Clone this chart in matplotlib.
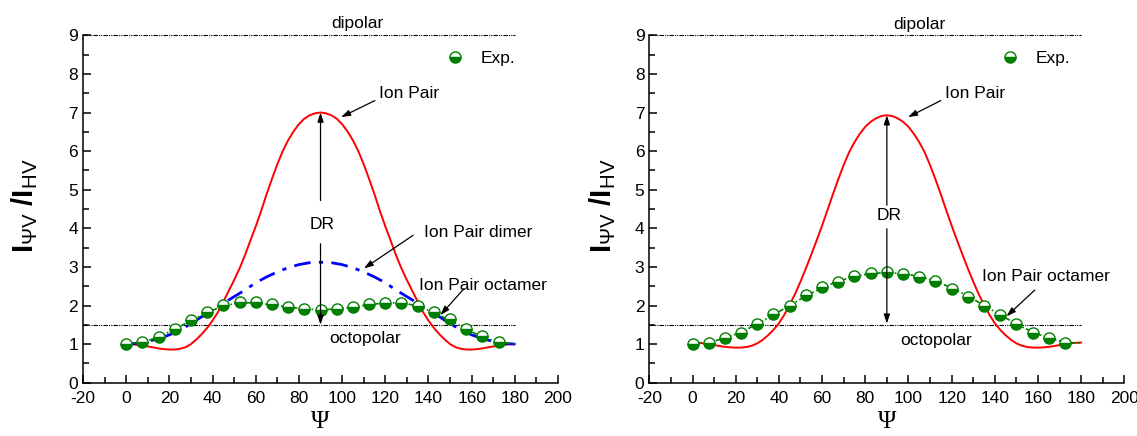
import matplotlib
matplotlib.use("Agg")
import matplotlib.pyplot as plt
import numpy as np

plt.rcParams["font.family"] = ["Liberation Sans", "DejaVu Sans"]
plt.rcParams["axes.unicode_minus"] = False
plt.rcParams["mathtext.fontset"] = "custom"
plt.rcParams["mathtext.rm"] = "Liberation Sans"
plt.rcParams["mathtext.bf"] = "Liberation Sans:bold"
plt.rcParams["mathtext.it"] = "Liberation Sans:italic"

# experimental points (psi in degrees)
psi_exp = [0, 7.5, 15, 22.5, 30, 37.5, 45, 52.5, 60, 67.5, 75, 82.5, 90,
           97.5, 105, 112.5, 120, 127.5, 135, 142.5, 150, 157.5, 165, 172.5]
exp_left = [1.00, 1.06, 1.19, 1.40, 1.62, 1.84, 2.01, 2.09, 2.08, 2.03, 1.97, 1.92, 1.89,
            1.92, 1.96, 2.03, 2.07, 2.07, 1.99, 1.84, 1.64, 1.40, 1.21, 1.06]
exp_right = [1.00, 1.03, 1.15, 1.30, 1.52, 1.77, 1.99, 2.27, 2.47, 2.62, 2.76, 2.84, 2.86,
             2.82, 2.75, 2.63, 2.44, 2.22, 1.98, 1.75, 1.52, 1.30, 1.15, 1.02]

# ion pair model, read every 2.5 deg
psi_ip = [i * 2.5 for i in range(73)]
ip_left_half = [1.00, 0.995, 0.98, 0.965, 0.94, 0.915, 0.89, 0.87, 0.86, 0.86, 0.88, 0.92,
                1.00, 1.12, 1.26, 1.42, 1.61, 1.83, 2.10, 2.38, 2.66, 2.96, 3.30, 3.68,
                4.05, 4.45, 4.88, 5.28, 5.66, 6.00, 6.28, 6.51, 6.70, 6.84, 6.93, 6.98, 7.00]
ip_right_half = [1.04, 1.035, 1.02, 1.00, 0.975, 0.95, 0.93, 0.915, 0.91, 0.91, 0.925, 0.96,
                 1.02, 1.11, 1.23, 1.37, 1.54, 1.76, 2.02, 2.30, 2.62, 2.96, 3.32, 3.69,
                 4.07, 4.47, 4.88, 5.27, 5.64, 5.97, 6.23, 6.45, 6.63, 6.76, 6.85, 6.91, 6.93]
ion_pair_left = ip_left_half + ip_left_half[-2::-1]
ion_pair_right = ip_right_half + ip_right_half[-2::-1]

# ion pair dimer model (left panel), every 5 deg
psi_dimer = list(range(0, 185, 5))
dimer_left = [1.00, 1.02, 1.07, 1.14, 1.24, 1.37, 1.53, 1.71, 1.88, 2.06, 2.23, 2.40, 2.59,
              2.74, 2.87, 2.98, 3.06, 3.11, 3.12, 3.11, 3.06, 2.98, 2.87, 2.74, 2.59, 2.40,
              2.23, 2.06, 1.88, 1.71, 1.53, 1.37, 1.24, 1.14, 1.07, 1.02, 1.00]

# ion pair octamer model
psi_oct = [0, 7.5, 15, 22.5, 30, 37.5, 45, 52.5, 60, 67.5, 75, 82.5, 90,
           97.5, 105, 112.5, 120, 127.5, 135, 142.5, 150, 157.5, 165, 172.5, 180]
oct_left = [1.00, 1.05, 1.18, 1.39, 1.61, 1.82, 1.99, 2.07, 2.07, 2.02, 1.96, 1.91, 1.89,
            1.91, 1.96, 2.02, 2.07, 2.07, 1.99, 1.82, 1.61, 1.39, 1.18, 1.05, 1.00]
oct_right = [1.02, 1.05, 1.15, 1.31, 1.52, 1.76, 2.00, 2.25, 2.46, 2.63, 2.75, 2.83, 2.85,
             2.83, 2.75, 2.63, 2.46, 2.25, 2.00, 1.76, 1.52, 1.31, 1.15, 1.05, 1.02]

dipolar = 9.0
octopolar = 1.5

GREEN = "#007f00"
FS = 12.5
YLABEL = r"$\mathbf{I}_{\mathrm{ΨV}}\ \mathbf{/I}_{\mathrm{HV}}$"


def style_axes(ax, ylab_x):
    ax.set_xlim(-20, 200)
    ax.set_ylim(0, 9)
    ax.set_xticks(np.arange(-20, 201, 20))
    ax.set_xticks(np.arange(-10, 200, 20), minor=True)
    ax.set_yticks(np.arange(0, 10, 1))
    ax.set_yticks(np.arange(0.5, 9, 1), minor=True)
    ax.tick_params(which="both", direction="in", labelsize=FS, width=1.1)
    ax.tick_params(which="major", length=6)
    ax.tick_params(which="minor", length=4.5)
    ax.tick_params(axis="x", pad=6)
    for s in ("top", "right"):
        ax.spines[s].set_visible(False)
    for s in ("left", "bottom"):
        ax.spines[s].set_linewidth(1.1)
    ax.set_xlabel("Ψ", family="Liberation Serif", fontsize=18, va="bottom")
    ax.xaxis.set_label_coords(0.5, -0.145)
    ax.set_ylabel(YLABEL, fontsize=21)
    ax.yaxis.set_label_coords(ylab_x, 0.509)


def ref_lines(ax):
    ax.plot([-20, 180], [dipolar, dipolar], color="black", lw=0.8, dashes=(4, 1, 1, 1, 1, 1), clip_on=False)
    ax.plot([-20, 180], [octopolar, octopolar], color="black", lw=0.8, dashes=(4, 1, 1, 1, 1, 1))


def exp_points(ax, y):
    return ax.plot(psi_exp, y, linestyle="none", marker="o", markersize=8,
                   fillstyle="bottom", markerfacecolor=GREEN, markerfacecoloralt="white",
                   markeredgecolor=GREEN, markeredgewidth=1.0, label="Exp.", zorder=4)[0]


def arrow(ax, xy, xytext, lw=0.9):
    ax.annotate("", xy=xy, xytext=xytext,
                arrowprops=dict(arrowstyle="-|>,head_width=0.18,head_length=0.55",
                                color="black", lw=lw, shrinkA=0, shrinkB=0), zorder=6)


fig = plt.figure(figsize=(11.37, 4.36), dpi=100)
ax1 = fig.add_axes([0.0730, 0.1222, 0.4178, 0.7968])
ax2 = fig.add_axes([0.5711, 0.1222, 0.4178, 0.7968])

# ---- left panel
ref_lines(ax1)
ax1.plot(psi_ip, ion_pair_left, color="red", lw=1.4, zorder=3)
ax1.plot(psi_dimer, dimer_left, color="blue", lw=2.0, dashes=(6, 3, 1.5, 3), zorder=3)
ax1.plot(psi_oct, oct_left, color=GREEN, lw=1.2, dashes=(3, 1.5, 1, 1.5), zorder=3)
h1 = exp_points(ax1, exp_left)
style_axes(ax1, -0.09)
ax1.legend(handles=[h1], loc="center left", bbox_to_anchor=(0.764, 0.934), frameon=False,
           fontsize=FS, handlelength=1.0, handletextpad=1.0, borderpad=0, borderaxespad=0)

ax1.text(107, 9.3, "dipolar", ha="center", va="center", fontsize=FS)
ax1.text(110.5, 1.15, "octopolar", ha="center", va="center", fontsize=FS)
ax1.text(130.8, 7.48, "Ion Pair", ha="center", va="center", fontsize=FS)
arrow(ax1, (99.5, 6.88), (115.2, 7.31))
ax1.text(90.7, 4.1, "DR", ha="center", va="center", fontsize=FS)
arrow(ax1, (90, 7.0), (90, 4.72))
arrow(ax1, (90, 1.5), (90, 3.6))
ax1.text(162.8, 3.89, "Ion Pair dimer", ha="center", va="center", fontsize=FS)
arrow(ax1, (110.1, 2.96), (132.9, 3.82))
ax1.text(165, 2.53, "Ion Pair octamer", ha="center", va="center", fontsize=FS)
arrow(ax1, (145.5, 1.75), (156.5, 2.44))

# ---- right panel
ref_lines(ax2)
ax2.plot(psi_ip, ion_pair_right, color="red", lw=1.4, zorder=3)
ax2.plot(psi_oct, oct_right, color=GREEN, lw=1.2, dashes=(3, 1.5, 1, 1.5), zorder=3)
h2 = exp_points(ax2, exp_right)
style_axes(ax2, -0.066)
ax2.legend(handles=[h2], loc="center left", bbox_to_anchor=(0.741, 0.934), frameon=False,
           fontsize=FS, handlelength=1.0, handletextpad=1.0, borderpad=0, borderaxespad=0)

ax2.text(105.2, 9.28, "dipolar", ha="center", va="center", fontsize=FS)
ax2.text(113, 1.1, "octopolar", ha="center", va="center", fontsize=FS)
ax2.text(131, 7.5, "Ion Pair", ha="center", va="center", fontsize=FS)
arrow(ax2, (99.8, 6.88), (115, 7.31))
ax2.text(90.9, 4.32, "DR", ha="center", va="center", fontsize=FS)
arrow(ax2, (90, 6.93), (90, 4.6))
arrow(ax2, (90, 1.53), (90, 3.99))
ax2.text(163.7, 2.74, "Ion Pair octamer", ha="center", va="center", fontsize=FS)
arrow(ax2, (145.4, 1.72), (158.5, 2.4))

fig.savefig("out.png", dpi=100)
